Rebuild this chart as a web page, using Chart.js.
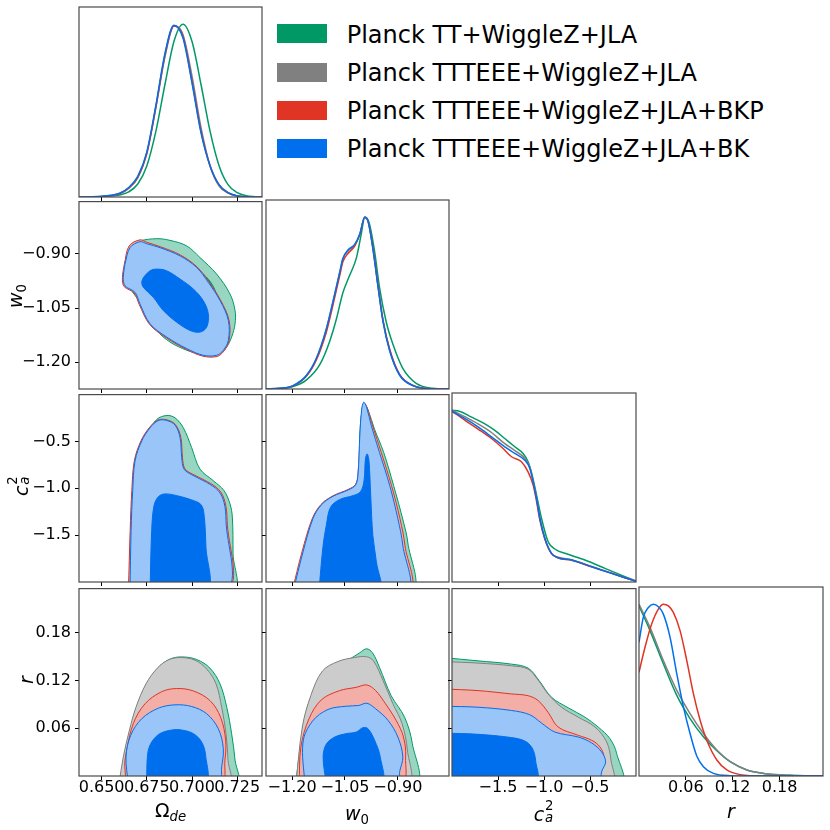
<!DOCTYPE html>
<html>
<head>
<meta charset="utf-8">
<script src="https://cdn.jsdelivr.net/npm/chart.js@4.4.1/dist/chart.umd.min.js"></script>
<style>
html,body{margin:0;padding:0;background:#fff;}
#wrap{position:relative;width:830px;height:830px;overflow:hidden;background:#fff;font-family:"DejaVu Sans",sans-serif;}
#wrap canvas{position:absolute;}
.lab{position:absolute;left:0;top:0;transform-origin:0 0;font-size:19px;line-height:19px;white-space:nowrap;color:#000;font-family:"DejaVu Sans",sans-serif;}
.lab i{font-style:italic;}
.sb{position:relative;top:0.33em;font-size:70%;}
.sw{position:absolute;left:277px;width:50px;height:19px;}
.lt{position:absolute;left:0;top:0;font-size:24px;line-height:24px;white-space:nowrap;color:#000;font-family:"DejaVu Sans",sans-serif;}
</style>
</head>
<body>
<div id="wrap"></div>
<script>
// ---------- series ----------
const seriesNames = ['Planck TT+WiggleZ+JLA','Planck TTTEEE+WiggleZ+JLA','Planck TTTEEE+WiggleZ+JLA+BKP','Planck TTTEEE+WiggleZ+JLA+BK'];

// ---------- axes ----------
const omegaRange = [0.6375, 0.7387];
const w0Range = [-1.274, -0.755];
const caRange = [-2.0, 0.0];
const rRange = [0.0, 0.2357];
const omegaTicks = [0.650, 0.675, 0.700, 0.725];
const omegaTickLabels = ['0.650', '0.675', '0.700', '0.725'];
const w0Ticks = [-1.20, -1.05, -0.90];
const w0TickLabels = ['\u22121.20', '\u22121.05', '\u22120.90'];
const caTicks = [-1.5, -1.0, -0.5];
const caTickLabels = ['\u22121.5', '\u22121.0', '\u22120.5'];
const rTicks = [0.06, 0.12, 0.18];
const rTickLabels = ['0.06', '0.12', '0.18'];

// ---------- 1D marginals [x, P/Pmax] ----------
const om1dGreen = [[0.6375,0],[0.645,0.0005],[0.650,0.002],[0.655,0.005],[0.660,0.012],[0.665,0.03],[0.670,0.075],[0.675,0.18],[0.680,0.38],[0.685,0.65],[0.690,0.90],[0.695,1.0],[0.700,0.90],[0.705,0.65],[0.710,0.38],[0.715,0.18],[0.720,0.07],[0.725,0.025],[0.730,0.007],[0.735,0.002],[0.7387,0]];
const om1dGray = [[0.6375,0],[0.645,0.0008],[0.650,0.002],[0.655,0.006],[0.660,0.018],[0.665,0.05],[0.670,0.11],[0.675,0.256],[0.680,0.516],[0.685,0.81],[0.690,0.99],[0.695,0.94],[0.700,0.70],[0.705,0.40],[0.710,0.18],[0.715,0.063],[0.720,0.022],[0.725,0.006],[0.730,0.001],[0.7387,0]];
const om1dRed = [[0.6375,0],[0.645,0.001],[0.650,0.003],[0.655,0.009],[0.660,0.02],[0.665,0.052],[0.670,0.115],[0.675,0.25],[0.680,0.52],[0.685,0.82],[0.690,0.99],[0.695,0.93],[0.700,0.67],[0.705,0.38],[0.710,0.18],[0.715,0.07],[0.720,0.024],[0.725,0.006],[0.730,0.001],[0.7387,0]];
const om1dBlue = [[0.6375,0],[0.645,0.001],[0.650,0.004],[0.655,0.01],[0.660,0.022],[0.665,0.055],[0.670,0.12],[0.675,0.26],[0.680,0.53],[0.685,0.83],[0.690,0.995],[0.695,0.92],[0.700,0.66],[0.705,0.37],[0.710,0.18],[0.715,0.07],[0.720,0.025],[0.725,0.007],[0.730,0.001],[0.7387,0]];

const w01dGreen = [[-1.274,0],[-1.235,0.002],[-1.197,0.014],[-1.159,0.053],[-1.122,0.14],[-1.093,0.28],[-1.074,0.41],[-1.056,0.56],[-1.037,0.66],[-1.018,0.76],[-1.004,0.90],[-0.994,1.0],[-0.982,0.97],[-0.966,0.80],[-0.952,0.59],[-0.933,0.39],[-0.914,0.26],[-0.886,0.12],[-0.848,0.033],[-0.801,0.004],[-0.755,0]];
const w01dGray = [[-1.274,0],[-1.235,0.004],[-1.197,0.02],[-1.159,0.078],[-1.131,0.175],[-1.103,0.345],[-1.084,0.505],[-1.065,0.675],[-1.056,0.755],[-1.041,0.805],[-1.023,0.835],[-1.008,0.90],[-0.994,1.0],[-0.985,0.98],[-0.971,0.82],[-0.956,0.595],[-0.942,0.395],[-0.923,0.225],[-0.895,0.082],[-0.858,0.021],[-0.801,0.001],[-0.755,0]];
const w01dRed = [[-1.274,0],[-1.235,0.003],[-1.197,0.018],[-1.159,0.075],[-1.131,0.17],[-1.103,0.33],[-1.084,0.49],[-1.065,0.66],[-1.056,0.74],[-1.041,0.79],[-1.023,0.83],[-1.008,0.90],[-0.994,1.0],[-0.985,0.98],[-0.971,0.83],[-0.956,0.60],[-0.942,0.40],[-0.923,0.23],[-0.895,0.085],[-0.858,0.022],[-0.801,0.001],[-0.755,0]];
const w01dBlue = [[-1.274,0],[-1.235,0.004],[-1.197,0.02],[-1.159,0.08],[-1.131,0.18],[-1.103,0.35],[-1.084,0.51],[-1.065,0.68],[-1.056,0.76],[-1.041,0.81],[-1.023,0.84],[-1.008,0.90],[-0.994,1.0],[-0.985,0.98],[-0.971,0.82],[-0.956,0.59],[-0.942,0.39],[-0.923,0.22],[-0.895,0.08],[-0.858,0.02],[-0.801,0.001],[-0.755,0]];

const ca1dGreen = [[-2.0,1.0],[-1.920,0.994],[-1.793,0.961],[-1.647,0.922],[-1.538,0.884],[-1.426,0.835],[-1.317,0.787],[-1.227,0.748],[-1.173,0.700],[-1.129,0.622],[-1.081,0.506],[-1.027,0.370],[-0.955,0.234],[-0.863,0.186],[-0.773,0.167],[-0.555,0.128],[-0.338,0.079],[-0.120,0.031],[-0.003,0.006]];
const ca1dGray = [[-2.0,1.0],[-1.862,0.962],[-1.717,0.92],[-1.571,0.87],[-1.426,0.805],[-1.317,0.765],[-1.209,0.72],[-1.154,0.67],[-1.118,0.59],[-1.081,0.49],[-1.045,0.375],[-0.991,0.255],[-0.918,0.165],[-0.846,0.145],[-0.700,0.13],[-0.482,0.09],[-0.265,0.052],[-0.120,0.025],[-0.003,0.005]];
const ca1dRed = [[-2.0,0.994],[-1.862,0.942],[-1.717,0.890],[-1.571,0.835],[-1.450,0.78],[-1.353,0.729],[-1.245,0.70],[-1.173,0.641],[-1.118,0.564],[-1.081,0.47],[-1.045,0.36],[-0.991,0.25],[-0.918,0.165],[-0.846,0.14],[-0.700,0.127],[-0.482,0.088],[-0.265,0.05],[-0.120,0.025],[-0.003,0.005]];
const ca1dBlue = [[-2.0,0.994],[-1.862,0.952],[-1.717,0.903],[-1.571,0.845],[-1.426,0.787],[-1.317,0.748],[-1.209,0.709],[-1.154,0.661],[-1.118,0.583],[-1.081,0.486],[-1.045,0.370],[-0.991,0.254],[-0.918,0.167],[-0.846,0.141],[-0.700,0.128],[-0.482,0.089],[-0.265,0.050],[-0.120,0.025],[-0.003,0.006]];

const r1dGreen = [[0,0.99],[0.0141,0.846],[0.0312,0.653],[0.0484,0.469],[0.0654,0.334],[0.0825,0.228],[0.0997,0.147],[0.1168,0.083],[0.1382,0.035],[0.1595,0.015],[0.1937,0.004],[0.2357,0]];
const r1dGray = [[0,1.0],[0.0141,0.865],[0.0312,0.672],[0.0484,0.498],[0.0654,0.363],[0.0825,0.247],[0.0997,0.151],[0.1168,0.083],[0.1382,0.035],[0.1595,0.015],[0.1937,0.004],[0.2357,0]];
const r1dRed = [[0,0.604],[0.0077,0.749],[0.0162,0.884],[0.0248,0.971],[0.0312,1.0],[0.0376,0.990],[0.044,0.952],[0.0526,0.846],[0.0612,0.672],[0.0697,0.479],[0.0783,0.324],[0.0868,0.208],[0.0997,0.093],[0.1125,0.035],[0.1296,0.008],[0.1595,0],[0.2357,0]];
const r1dBlue = [[0,0.778],[0.0055,0.923],[0.012,0.981],[0.0184,1.0],[0.0248,0.985],[0.0312,0.942],[0.0398,0.807],[0.0484,0.595],[0.0569,0.402],[0.0654,0.247],[0.074,0.116],[0.0825,0.054],[0.0953,0.015],[0.1168,0.002],[0.15,0],[0.2357,0]];

// ---------- 2D contours [x, y] ----------
// Omega_de vs w0
const omW_greenOuter = [[0.6666,-0.8778],[0.6712,-0.864],[0.6805,-0.8577],[0.6878,-0.8623],[0.6971,-0.8778],[0.7044,-0.91],[0.7136,-0.9557],[0.7210,-1.0108],[0.7238,-1.0567],[0.7238,-1.0934],[0.7219,-1.1302],[0.7192,-1.1577],[0.7155,-1.1759],[0.7099,-1.1825],[0.7044,-1.1778],[0.6971,-1.1668],[0.6878,-1.1439],[0.6805,-1.1118],[0.6749,-1.066],[0.6712,-1.034],[0.6666,-1.0017],[0.6638,-0.9788],[0.6638,-0.91]];
const omW_greenInner = [[0.6760,-0.950],[0.6840,-0.928],[0.6930,-0.925],[0.7010,-0.937],[0.7065,-0.957],[0.7112,-0.985],[0.7140,-1.020],[0.7150,-1.060],[0.7130,-1.100],[0.7070,-1.118],[0.6990,-1.110],[0.6910,-1.085],[0.6840,-1.050],[0.6780,-1.010],[0.6745,-0.978]];
const omW_grayOuter = [[0.6628,-0.928],[0.6656,-0.880],[0.6712,-0.864],[0.6750,-0.870],[0.6824,-0.881],[0.6935,-0.904],[0.7027,-0.937],[0.7092,-0.978],[0.7157,-1.029],[0.7203,-1.084],[0.7203,-1.140],[0.7175,-1.168],[0.7137,-1.182],[0.7061,-1.182],[0.6970,-1.163],[0.6859,-1.131],[0.6767,-1.094],[0.6711,-1.039],[0.6684,-1.007],[0.6628,-0.989],[0.6619,-0.965]];
const omW_redOuter = [[0.6625,-0.930],[0.6652,-0.878],[0.6712,-0.861],[0.6752,-0.868],[0.6825,-0.880],[0.6936,-0.903],[0.7028,-0.936],[0.7093,-0.977],[0.7158,-1.028],[0.7205,-1.084],[0.7205,-1.140],[0.7176,-1.169],[0.7138,-1.184],[0.7060,-1.183],[0.6968,-1.164],[0.6857,-1.132],[0.6765,-1.095],[0.6708,-1.040],[0.6680,-1.008],[0.6624,-0.990],[0.6615,-0.965]];
const omW_blueOuter = [[0.6629,-0.9282],[0.6657,-0.8825],[0.6712,-0.866],[0.6749,-0.8715],[0.6823,-0.8825],[0.6934,-0.9054],[0.7026,-0.9375],[0.7090,-0.9788],[0.7155,-1.0292],[0.7201,-1.0842],[0.7201,-1.1393],[0.7173,-1.1668],[0.7136,-1.1806],[0.7062,-1.1806],[0.6971,-1.1621],[0.6860,-1.1302],[0.6768,-1.0934],[0.6712,-1.0383],[0.6685,-1.0064],[0.6629,-0.9879],[0.6620,-0.965]];
const omW_blueInner = [[0.6731,-0.965],[0.6768,-0.9466],[0.6805,-0.942],[0.6860,-0.9466],[0.6934,-0.9695],[0.7007,-0.997],[0.7062,-1.0292],[0.7090,-1.066],[0.7081,-1.1027],[0.7044,-1.1164],[0.6989,-1.1118],[0.6915,-1.0889],[0.6841,-1.0567],[0.6786,-1.0201],[0.6731,-0.9926],[0.6722,-0.9788]];

// Omega_de vs c_a^2
const omC_greenOuter = [[0.6677,-2.1],[0.6679,-1.5],[0.6681,-0.919],[0.6703,-0.619],[0.6749,-0.424],[0.6805,-0.265],[0.6860,-0.223],[0.6906,-0.248],[0.6952,-0.354],[0.6998,-0.566],[0.7044,-0.795],[0.7118,-0.919],[0.7177,-1.025],[0.7210,-1.166],[0.7223,-1.308],[0.7227,-1.7],[0.7228,-2.1]];
const omC_grayOuter = [[0.6652,-2.1],[0.6660,-1.449],[0.6670,-1.025],[0.6683,-0.707],[0.6720,-0.494],[0.6767,-0.352],[0.6813,-0.273],[0.6861,-0.272],[0.6907,-0.322],[0.6936,-0.457],[0.6945,-0.669],[0.6958,-0.792],[0.7000,-0.851],[0.7084,-0.933],[0.7148,-1.021],[0.7180,-1.146],[0.7191,-1.341],[0.7191,-2.1]];
const omC_redOuter = [[0.6648,-2.1],[0.6658,-1.449],[0.6667,-1.025],[0.6681,-0.707],[0.6718,-0.492],[0.6765,-0.350],[0.6812,-0.272],[0.6860,-0.270],[0.6908,-0.320],[0.6938,-0.455],[0.6947,-0.667],[0.6960,-0.790],[0.7002,-0.848],[0.7086,-0.930],[0.7150,-1.018],[0.7182,-1.143],[0.7194,-1.340],[0.7194,-2.1]];
const omC_blueOuter = [[0.6657,-2.1],[0.6663,-1.449],[0.6672,-1.025],[0.6685,-0.707],[0.6722,-0.495],[0.6768,-0.354],[0.6814,-0.276],[0.6860,-0.276],[0.6906,-0.325],[0.6934,-0.460],[0.6943,-0.672],[0.6956,-0.795],[0.6998,-0.855],[0.7081,-0.937],[0.7145,-1.025],[0.7177,-1.149],[0.7188,-1.343],[0.7188,-2.1]];
const omC_blueInner = [[0.6768,-2.1],[0.6777,-1.449],[0.6790,-1.184],[0.6814,-1.089],[0.6850,-1.060],[0.6915,-1.078],[0.6998,-1.124],[0.7049,-1.173],[0.7066,-1.272],[0.7077,-1.626],[0.7081,-2.1]];

// Omega_de vs r
const omR_greenOuter = [[0.6602,-0.01],[0.6624,0.024],[0.6657,0.057],[0.6694,0.0865],[0.6749,0.1158],[0.6814,0.1365],[0.6878,0.147],[0.6943,0.1498],[0.7026,0.1465],[0.7099,0.1357],[0.7155,0.1158],[0.7192,0.0865],[0.7219,0.0533],[0.7238,0.020],[0.7247,-0.01]];
const omR_grayOuter = [[0.6596,-0.01],[0.6620,0.024],[0.6653,0.057],[0.6690,0.0865],[0.6745,0.1158],[0.6808,0.1357],[0.6869,0.146],[0.6934,0.149],[0.7016,0.1457],[0.7081,0.1345],[0.7133,0.1158],[0.7164,0.0865],[0.7188,0.0533],[0.7199,0.020],[0.7203,-0.01]];
const omR_redOuter = [[0.6638,-0.01],[0.6628,0.012],[0.6635,0.0283],[0.6675,0.0658],[0.6740,0.0908],[0.6832,0.106],[0.6915,0.110],[0.7007,0.107],[0.7099,0.0949],[0.7158,0.074],[0.7186,0.045],[0.7182,0.020],[0.7158,-0.01]];
const omR_blueOuter = [[0.6648,-0.01],[0.6635,0.024],[0.6661,0.0512],[0.6722,0.072],[0.6814,0.0853],[0.6906,0.0895],[0.6998,0.0874],[0.7081,0.0783],[0.7145,0.0596],[0.7173,0.0346],[0.7164,0.0116],[0.7145,-0.01]];
const omR_blueInner = [[0.6749,-0.01],[0.6755,0.0283],[0.6777,0.0428],[0.6823,0.0533],[0.6888,0.0578],[0.6943,0.0578],[0.7007,0.0533],[0.7053,0.0428],[0.7075,0.0262],[0.7072,-0.01]];

// w0 vs c_a^2
const wC_greenOuter = [[-1.180,-2.1],[-1.152,-1.608],[-1.126,-1.290],[-1.103,-1.166],[-1.056,-1.071],[-1.023,-0.996],[-1.012,-0.877],[-1.008,-0.442],[-1.002,-0.177],[-0.994,-0.110],[-0.985,-0.159],[-0.966,-0.371],[-0.940,-0.619],[-0.912,-0.972],[-0.884,-1.361],[-0.872,-1.573],[-0.862,-2.1]];
const wC_redOuter = [[-1.200,-2.1],[-1.172,-1.679],[-1.143,-1.325],[-1.118,-1.172],[-1.084,-1.080],[-1.041,-1.012],[-1.020,-0.958],[-1.013,-0.840],[-1.007,-0.440],[-1.002,-0.162],[-0.996,-0.090],[-0.987,-0.140],[-0.971,-0.340],[-0.947,-0.619],[-0.918,-0.972],[-0.894,-1.325],[-0.880,-1.608],[-0.870,-2.1]];
const wC_blueOuter = [[-1.197,-2.1],[-1.169,-1.679],[-1.141,-1.325],[-1.117,-1.177],[-1.084,-1.085],[-1.041,-1.018],[-1.020,-0.965],[-1.013,-0.848],[-1.008,-0.442],[-1.003,-0.166],[-0.997,-0.082],[-0.989,-0.131],[-0.975,-0.336],[-0.952,-0.619],[-0.923,-0.972],[-0.900,-1.325],[-0.886,-1.608],[-0.876,-2.1]];
const wC_blueInner = [[-1.124,-2.1],[-1.112,-1.608],[-1.103,-1.396],[-1.091,-1.202],[-1.065,-1.120],[-1.027,-1.078],[-1.006,-1.036],[-0.996,-0.919],[-0.992,-0.689],[-0.987,-0.633],[-0.982,-0.707],[-0.977,-1.078],[-0.971,-1.502],[-0.961,-1.785],[-0.954,-2.1]];

// w0 vs r
const wR_greenOuter = [[-1.190,-0.01],[-1.169,0.0616],[-1.150,0.0949],[-1.112,0.126],[-1.074,0.1386],[-1.037,0.147],[-1.008,0.155],[-0.989,0.160],[-0.972,0.155],[-0.952,0.1365],[-0.919,0.101],[-0.881,0.074],[-0.859,0.0408],[-0.850,-0.01]];
const wR_grayOuter = [[-1.189,-0.01],[-1.171,0.0616],[-1.147,0.101],[-1.114,0.132],[-1.070,0.144],[-1.023,0.149],[-0.989,0.150],[-0.969,0.1448],[-0.942,0.120],[-0.914,0.0908],[-0.888,0.0658],[-0.873,0.0325],[-0.872,-0.01]];
const wR_redOuter = [[-1.180,-0.01],[-1.175,0.0366],[-1.152,0.072],[-1.117,0.0958],[-1.065,0.1074],[-1.018,0.1115],[-0.988,0.1145],[-0.963,0.1074],[-0.935,0.0908],[-0.905,0.070],[-0.884,0.049],[-0.878,0.024],[-0.891,-0.01]];
const wR_blueOuter = [[-1.164,-0.01],[-1.169,0.0428],[-1.142,0.069],[-1.098,0.0837],[-1.046,0.0878],[-1.011,0.0887],[-0.988,0.0915],[-0.963,0.0845],[-0.928,0.070],[-0.900,0.049],[-0.886,0.024],[-0.895,0.0054],[-0.900,-0.01]];
const wR_blueInner = [[-1.103,-0.01],[-1.112,0.024],[-1.103,0.040],[-1.079,0.049],[-1.046,0.0533],[-1.018,0.0553],[-0.999,0.0608],[-0.985,0.0596],[-0.966,0.045],[-0.950,0.024],[-0.947,-0.01]];

// c_a^2 vs r
const cR_greenOuter = [[-2.1,0.149],[-1.717,0.1448],[-1.353,0.1407],[-1.173,0.1357],[-1.053,0.120],[-0.918,0.099],[-0.737,0.0858],[-0.555,0.074],[-0.411,0.0616],[-0.283,0.047],[-0.210,0.0283],[-0.167,-0.01],[-2.1,-0.01]];
const cR_grayOuter = [[-2.1,0.144],[-1.717,0.142],[-1.353,0.1386],[-1.173,0.1345],[-1.064,0.1207],[-0.955,0.103],[-0.809,0.0865],[-0.628,0.074],[-0.446,0.0616],[-0.319,0.0428],[-0.272,0.020],[-0.265,-0.01],[-2.1,-0.01]];
const cR_redOuter = [[-2.1,0.1095],[-1.717,0.1074],[-1.353,0.1032],[-1.173,0.101],[-1.064,0.0949],[-0.955,0.080],[-0.846,0.0616],[-0.628,0.0512],[-0.482,0.045],[-0.392,0.0366],[-0.348,0.024],[-0.381,0.015],[-0.482,0.0054],[-0.591,-0.01],[-2.1,-0.01]];
const cR_blueOuter = [[-2.1,0.0878],[-1.717,0.0865],[-1.353,0.0824],[-1.154,0.077],[-1.027,0.0666],[-0.882,0.0553],[-0.628,0.049],[-0.482,0.0416],[-0.374,0.0303],[-0.330,0.0179],[-0.367,0.0075],[-0.428,-0.01],[-2.1,-0.01]];
const cR_blueInner = [[-2.1,0.054],[-1.717,0.0524],[-1.353,0.0483],[-1.209,0.044],[-1.129,0.0353],[-1.092,0.020],[-1.092,-0.01],[-2.1,-0.01]];

// ---------- styles ----------
const C = {green:'#009966', gray:'#808080', red:'#E03424', blue:'#006FED'};
const CL = {green:'rgb(153,214,194)', gray:'rgb(204,204,204)', red:'rgb(243,174,167)', blue:'rgb(153,197,248)'};
const seriesColors = [C.green, C.gray, C.red, C.blue];

const AX = {
  om:{range:omegaRange, ticks:omegaTicks, labels:omegaTickLabels},
  w0:{range:w0Range, ticks:w0Ticks, labels:w0TickLabels},
  ca:{range:caRange, ticks:caTicks, labels:caTickLabels},
  r:{range:rRange, ticks:rTicks, labels:rTickLabels}
};

const colLeft = [79, 266, 452, 639], colW = [183, 183, 184, 184];
const rowTop = [7, 200, 393, 587], rowH = [190, 189, 189, 189];
const YW = 75, XH = 45, PADT = 12, PADR = 6;
const wrap = document.getElementById('wrap');

const framePlugin = {
  id: 'frame',
  afterDatasetsDraw(chart) {
    const a = chart.chartArea, ctx = chart.ctx;
    ctx.save();
    ctx.strokeStyle = '#4a4a4a';
    ctx.lineWidth = 1.2;
    ctx.strokeRect(a.left, a.top, a.right - a.left, a.bottom - a.top);
    ctx.restore();
  }
};

function pts(a) { return a.map(p => ({x: p[0], y: p[1]})); }
function closedPts(a) { return pts(a.concat([a[0]])); }
function areaDs(arr, key, inner) {
  return {data: closedPts(arr), showLine: true, fill: 'shape',
    backgroundColor: inner ? C[key] : CL[key], borderColor: C[key], borderWidth: 1,
    pointRadius: 0, tension: 0.35};
}
function curveDs(arr, key) {
  return {data: pts(arr), showLine: true, fill: false, borderColor: C[key], borderWidth: 1.5,
    pointRadius: 0, cubicInterpolationMode: 'monotone'};
}

const tickFont = {family: "'DejaVu Sans'", size: 16};

function makePanel(row, col, xp, yp, layers) {
  const cv = document.createElement('canvas');
  const w = YW + colW[col] + PADR, h = PADT + rowH[row] + XH;
  cv.width = w; cv.height = h;
  cv.style.left = (colLeft[col] - YW) + 'px';
  cv.style.top = (rowTop[row] - PADT) + 'px';
  cv.style.width = w + 'px'; cv.style.height = h + 'px';
  wrap.appendChild(cv);
  const xa = AX[xp], ya = yp ? AX[yp] : null;
  // Chart.js paints dataset 0 last (on top): list layers top-first
  const datasets = layers.slice().reverse();
  new Chart(cv, {
    type: 'scatter',
    data: {datasets},
    options: {
      responsive: false, animation: false, events: [],
      layout: {padding: {left: 0, right: PADR, top: PADT, bottom: 0}},
      plugins: {legend: {display: false}, tooltip: {enabled: false}},
      elements: {line: {capBezierPoints: false}},
      scales: {
        x: {
          type: 'linear', min: xa.range[0], max: xa.range[1],
          afterBuildTicks: s => { s.ticks = xa.ticks.map(v => ({value: v})); },
          afterFit: s => { s.height = XH; },
          grid: {display: true, drawOnChartArea: false, drawTicks: true, tickLength: 4, color: '#000', tickColor: '#000', tickWidth: 1},
          border: {display: false},
          ticks: {autoSkip: false, maxRotation: 0, minRotation: 0, padding: -2, color: '#000', font: tickFont,
            callback: (v, i) => row === 3 ? xa.labels[i] : ''}
        },
        y: {
          type: 'linear', min: ya ? ya.range[0] : 0, max: ya ? ya.range[1] : 1.1,
          afterBuildTicks: s => { s.ticks = ya ? ya.ticks.map(v => ({value: v})) : []; },
          afterFit: s => { s.width = YW; },
          grid: {display: true, drawOnChartArea: false, drawTicks: true, tickLength: 4, color: '#000', tickColor: '#000', tickWidth: 1},
          border: {display: false},
          ticks: {autoSkip: false, padding: 4, color: '#000', font: tickFont,
            callback: (v, i) => (ya && col === 0) ? ya.labels[i] : ''}
        }
      }
    },
    plugins: [framePlugin]
  });
}

// diagonal (bottom layer first)
makePanel(0, 0, 'om', null, [curveDs(om1dGreen,'green'), curveDs(om1dGray,'gray'), curveDs(om1dRed,'red'), curveDs(om1dBlue,'blue')]);
makePanel(1, 1, 'w0', null, [curveDs(w01dGreen,'green'), curveDs(w01dGray,'gray'), curveDs(w01dRed,'red'), curveDs(w01dBlue,'blue')]);
makePanel(2, 2, 'ca', null, [curveDs(ca1dGreen,'green'), curveDs(ca1dGray,'gray'), curveDs(ca1dRed,'red'), curveDs(ca1dBlue,'blue')]);
makePanel(3, 3, 'r', null, [curveDs(r1dGreen,'green'), curveDs(r1dGray,'gray'), curveDs(r1dRed,'red'), curveDs(r1dBlue,'blue')]);
// 2D (bottom layer first)
makePanel(1, 0, 'om', 'w0', [areaDs(omW_greenOuter,'green'), areaDs(omW_greenInner,'green',true), areaDs(omW_grayOuter,'gray'), areaDs(omW_redOuter,'red'), areaDs(omW_blueOuter,'blue'), areaDs(omW_blueInner,'blue',true)]);
makePanel(2, 0, 'om', 'ca', [areaDs(omC_greenOuter,'green'), areaDs(omC_grayOuter,'gray'), areaDs(omC_redOuter,'red'), areaDs(omC_blueOuter,'blue'), areaDs(omC_blueInner,'blue',true)]);
makePanel(3, 0, 'om', 'r', [areaDs(omR_greenOuter,'green'), areaDs(omR_grayOuter,'gray'), areaDs(omR_redOuter,'red'), areaDs(omR_blueOuter,'blue'), areaDs(omR_blueInner,'blue',true)]);
makePanel(2, 1, 'w0', 'ca', [areaDs(wC_greenOuter,'green'), areaDs(wC_redOuter,'red'), areaDs(wC_blueOuter,'blue'), areaDs(wC_blueInner,'blue',true)]);
makePanel(3, 1, 'w0', 'r', [areaDs(wR_greenOuter,'green'), areaDs(wR_grayOuter,'gray'), areaDs(wR_redOuter,'red'), areaDs(wR_blueOuter,'blue'), areaDs(wR_blueInner,'blue',true)]);
makePanel(3, 2, 'ca', 'r', [areaDs(cR_greenOuter,'green'), areaDs(cR_grayOuter,'gray'), areaDs(cR_redOuter,'red'), areaDs(cR_blueOuter,'blue'), areaDs(cR_blueInner,'blue',true)]);

// ---------- axis titles ----------
const BASE19 = 16.1;
function addLabel(html, x, y, rotate) {
  const d = document.createElement('div');
  d.className = 'lab';
  d.innerHTML = html;
  d.style.transform = rotate
    ? `translate(${x}px, ${y}px) rotate(-90deg) translate(-50%, -${BASE19}px)`
    : `translate(${x}px, ${y}px) translate(-50%, -${BASE19}px)`;
  wrap.appendChild(d);
}
const labOmega = 'Ω<span class="sb"><i>de</i></span>';
const labW0 = '<i>w</i><span class="sb">0</span>';
const labCa = '<i>c</i><span style="display:inline-block;position:relative;width:0.5em;height:1em;"><span style="position:absolute;left:0.05em;top:-0.42em;font-size:70%;">2</span><span style="position:absolute;left:0.05em;top:0.42em;font-size:70%;"><i>a</i></span></span>';
const labR = '<i>r</i>';
addLabel(labOmega, 170.5, 817, false);
addLabel(labW0, 357, 820, false);
addLabel(labCa, 543.8, 818.3, false);
addLabel(labR, 731, 818.3, false);
addLabel(labW0, 21.7, 296, true);
addLabel(labCa, 25, 486, true);
addLabel(labR, 33, 680, true);

// ---------- legend ----------
const legSwatchTop = [24, 62.7, 100.7, 139.3];
const legBaseline = [43.3, 81.2, 119.5, 157.7];
seriesNames.forEach((name, i) => {
  const s = document.createElement('div');
  s.className = 'sw';
  s.style.top = legSwatchTop[i] + 'px';
  s.style.background = seriesColors[i];
  wrap.appendChild(s);
  const t = document.createElement('div');
  t.className = 'lt';
  t.textContent = name;
  t.style.transform = `translate(346.7px, ${legBaseline[i]}px) translate(0, -20.3px)`;
  wrap.appendChild(t);
});
</script>
</body>
</html>
